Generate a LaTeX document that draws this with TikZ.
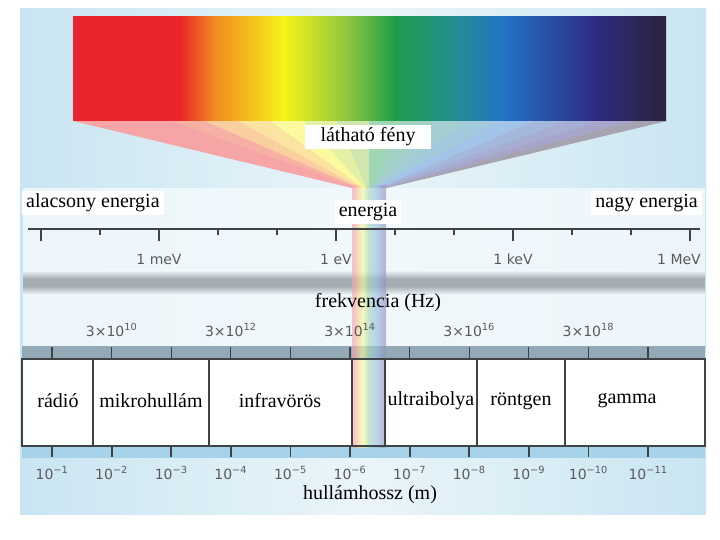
\documentclass[tikz,border=0pt]{standalone}
\usepackage{fontspec}
\setmainfont{Liberation Serif}
\newfontfamily\numfont{DejaVu Sans}
\usetikzlibrary{positioning}
\definecolor{panelbg}{HTML}{C9E5F1}
\definecolor{panellt}{HTML}{EAF5FA}
\definecolor{bandlt}{HTML}{F2F9FC}
\definecolor{bandgray}{HTML}{A4ADB3}
\definecolor{tickband}{HTML}{93A9B5}
\definecolor{lowband}{HTML}{A6D2EA}
\definecolor{axisline}{HTML}{3F4346}
\definecolor{numgray}{HTML}{5A5A5A}
\definecolor{sred}{HTML}{E9262B}
\definecolor{sorange}{HTML}{F28C1E}
\definecolor{syellow}{HTML}{F6F21A}
\definecolor{sygreen}{HTML}{8CC63F}
\definecolor{sgreen}{HTML}{1E9E4A}
\definecolor{steal}{HTML}{238C95}
\definecolor{sblue}{HTML}{2372C8}
\definecolor{sindigo}{HTML}{2E2C80}
\definecolor{sdark}{HTML}{2B2342}
\colorlet{pred}{sred!40!white}
\colorlet{pyellow}{syellow!45!white}
\colorlet{pgreen}{sgreen!40!white}
\colorlet{pblue}{sblue!45!white}
\colorlet{pviolet}{sindigo!50!white}
\pgfdeclarehorizontalshading{spectrum}{100bp}{color(0bp)=(sred); color(34bp)=(sred);
  color(37bp)=(sorange); color(42.8bp)=(syellow); color(48.2bp)=(sygreen);
  color(52.1bp)=(sgreen); color(57.5bp)=(steal); color(61.4bp)=(sblue);
  color(69.1bp)=(sindigo); color(74.5bp)=(sdark); color(100bp)=(sdark)}
\pgfdeclarehorizontalshading{pastel}{100bp}{color(0bp)=(pred); color(28bp)=(pred);
  color(40bp)=(pyellow); color(50bp)=(pgreen); color(60bp)=(pblue);
  color(72bp)=(pviolet); color(100bp)=(pviolet)}
\tikzset{
  lbl/.style={font=\fontsize{20}{22}\selectfont, inner sep=1pt},
  whitelbl/.style={lbl, fill=white, inner xsep=4pt, inner ysep=3pt},
  numlbl/.style={font=\numfont\fontsize{14}{16}\selectfont, text=numgray, inner sep=1pt},
  axisln/.style={draw=axisline, line width=1.5pt},
  minortick/.style={draw=axisline, line width=1.2pt},
  majortick/.style={draw=axisline, line width=1.8pt},
  boxline/.style={draw=axisline, line width=1.5pt}}
\begin{document}
\begin{tikzpicture}[x=1pt, y=-1pt]
  \useasboundingbox (0,0) rectangle (720,540);
  \shade[left color=panelbg, right color=panelbg, middle color=panellt] (20,9) rectangle (706,514);
  \fill[bandlt, opacity=0.85] (23,188) rectangle (705,274);
  \shade[top color=bandlt, bottom color=bandgray] (23,270) rectangle (705,279);
  \fill[bandgray] (23,279) rectangle (705,286);
  \shade[top color=bandgray, bottom color=bandlt] (23,286) rectangle (705,295);
  \fill[bandlt, opacity=0.85] (23,295) rectangle (705,346);
  \fill[tickband] (22,346) rectangle (705,359);
  \fill[lowband] (22,446) rectangle (705,458);
  \fill[white] (22,359) rectangle (705,446);
  \foreach \c [count=\i from 0] in {sred,sred,sred,sred!70!sorange,sorange,sorange!50!syellow,
      syellow,syellow!50!sygreen,sygreen,sgreen,sgreen!50!steal,steal,steal!50!sblue,sblue,
      sblue!60!sindigo,sindigo!70!sblue,sindigo,sdark}
    \fill[fill=\c!42!white] ({73+32.94*\i},121) -- ({73+32.94*\i+34},121)
      -- ({352+1.889*\i+2.5},188) -- ({352+1.889*\i},188) -- cycle;
  \shade[shading=pastel, opacity=0.65] (352,186) rectangle (386,447);
  \node[minimum width=593pt, minimum height=104pt, inner sep=0pt, shading=spectrum] (spec) at (369.5,69) {};
  \coordinate (elo) at (28,229);
  \coordinate (ehi) at (700,229);
  \draw[axisln] (elo) -- (ehi);
  \foreach \k in {0,...,11}
    \draw[minortick] ({41+59*\k},229) -- ++(0,6);
  \foreach \x in {41,159,336,513,690}
    \draw[majortick] (\x,229) -- ++(0,12);
  \foreach \k in {0,...,10}{
    \draw[minortick] ({52+59.6*\k},347) -- ({52+59.6*\k},359);
    \draw[majortick] ({52+59.6*\k},446) -- ({52+59.6*\k},457);
  }
  \draw[boxline] (22,359) rectangle (705,446);
  \foreach \x in {93,209,352,385,477,565}
    \draw[boxline] (\x,359) -- (\x,446);
  \node[whitelbl, inner xsep=16pt] (visible) at (368,137) {látható fény};
  \node[whitelbl, anchor=west] (loweng) at (22,203) {alacsony energia};
  \node[whitelbl, anchor=east] (higheng) at (702,203) {nagy energia};
  \node[whitelbl] (eng) at (368,212) {energia};
  \node[numlbl] (mev) at (159,259) {1 meV};
  \node[numlbl] (ev) at (336,259) {1 eV};
  \node[numlbl] (kev) at (513,259) {1 keV};
  \node[numlbl, anchor=east] (megev) at (702,259) {1 MeV};
  \node[lbl] (freq) at (378,303) {frekvencia (Hz)};
  \foreach \e [count=\j from 0] in {10,12,14,16,18}
    \node[numlbl] (fq\e) at ({111.6+119.2*\j},330) {3×10\textsuperscript{\e}};
  \node[lbl] (radio) at (58,401) {rádió};
  \node[lbl] (micro) at (151,401) {mikrohullám};
  \node[lbl] (infra) at (280,401) {infravörös};
  \node[lbl] (ultra) at (431,401) {ultraibolya};
  \node[lbl] (xray) at (521,401) {röntgen};
  \node[lbl] (gamma) at (627,401) {gamma};
  \foreach \k in {0,...,10}
    \node[numlbl] (wl\k) at ({52+59.6*\k},473) {10\textsuperscript{−\the\numexpr\k+1\relax}};
  \node[lbl] (wave) at (370,495) {hullámhossz (m)};
\end{tikzpicture}
\end{document}
